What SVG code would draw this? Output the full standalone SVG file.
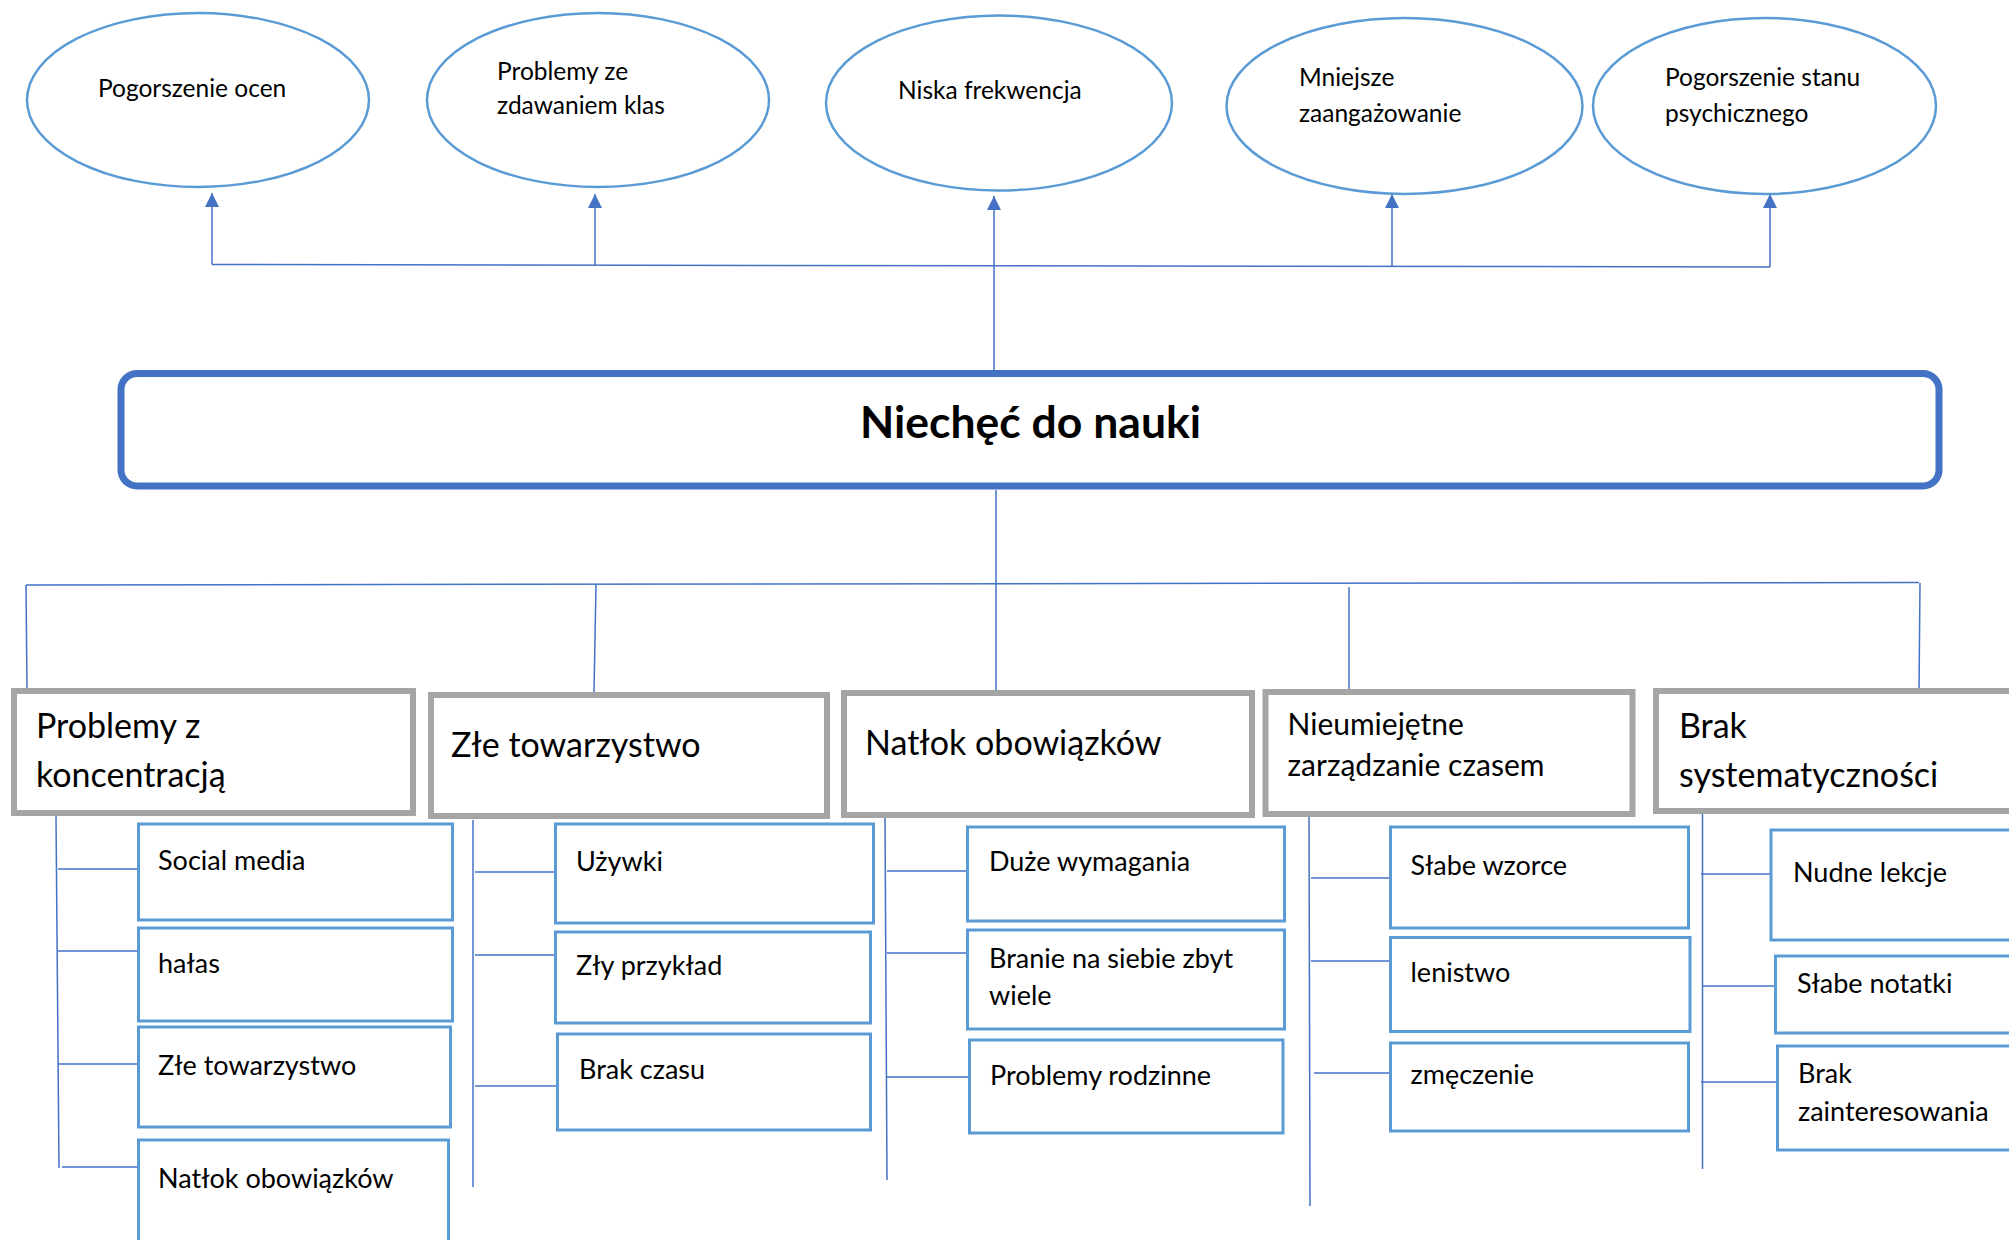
<svg xmlns="http://www.w3.org/2000/svg" width="2009" height="1240" viewBox="0 0 2009 1240">
<style>
.ell{fill:#fff;stroke:#5B9BD5;stroke-width:2.5}
.main{fill:#fff;stroke:#4472C4;stroke-width:7}
.cat{fill:#fff;stroke:#A5A5A5;stroke-width:6}
.leaf{fill:#fff;stroke:#5B9BD5;stroke-width:3}
.ln{fill:none;stroke:#4472C4;stroke-width:1.5}
.t{font-family:Lato,"Liberation Sans",sans-serif;fill:#000}
.te{font-size:24.5px}
.tc{font-size:34px}
.tc2{font-size:30px}
.tl{font-size:27px}
.tm{font-size:44.5px;font-weight:bold}
</style>
<defs>
<marker id="arr" markerUnits="userSpaceOnUse" markerWidth="16" markerHeight="16" refX="8" refY="1" orient="0" viewBox="0 0 16 16">
<path d="M8 1 L15 15 L1 15 Z" fill="#4472C4"/>
</marker>
</defs>

<g id="connectors">
<polyline class="ln" points="212,264.5 1770,267"/>
<line class="ln" x1="212" y1="264.5" x2="212" y2="193" marker-end="url(#arr)"/>
<line class="ln" x1="595" y1="265" x2="595" y2="194" marker-end="url(#arr)"/>
<line class="ln" x1="994" y1="372" x2="994" y2="196" marker-end="url(#arr)"/>
<line class="ln" x1="1392" y1="266.5" x2="1392" y2="194" marker-end="url(#arr)"/>
<line class="ln" x1="1770" y1="267" x2="1770" y2="194" marker-end="url(#arr)"/>

<line class="ln" x1="996" y1="490" x2="996" y2="691"/>
<polyline class="ln" points="26,585 1919,582.5"/>
<line class="ln" x1="26" y1="585" x2="27" y2="688"/>
<line class="ln" x1="596" y1="584.5" x2="594" y2="692"/>
<line class="ln" x1="1349" y1="587" x2="1349" y2="690"/>
<line class="ln" x1="1920" y1="583" x2="1919" y2="691"/>

<line class="ln" x1="56" y1="816" x2="59" y2="1168"/>
<line class="ln" x1="58" y1="869" x2="138" y2="869"/>
<line class="ln" x1="58" y1="951" x2="138" y2="951"/>
<line class="ln" x1="58" y1="1064" x2="138" y2="1064"/>
<line class="ln" x1="62" y1="1167" x2="138" y2="1167"/>

<line class="ln" x1="473" y1="820" x2="473" y2="1187"/>
<line class="ln" x1="475" y1="872" x2="555" y2="872"/>
<line class="ln" x1="475" y1="955" x2="555" y2="955"/>
<line class="ln" x1="475" y1="1086" x2="557" y2="1086"/>

<line class="ln" x1="885" y1="816" x2="887" y2="1180"/>
<line class="ln" x1="887" y1="871" x2="967" y2="871"/>
<line class="ln" x1="887" y1="953" x2="967" y2="953"/>
<line class="ln" x1="886" y1="1077" x2="969" y2="1077"/>

<line class="ln" x1="1309" y1="816" x2="1310" y2="1206"/>
<line class="ln" x1="1311" y1="878" x2="1390" y2="878"/>
<line class="ln" x1="1311" y1="961" x2="1390" y2="961"/>
<line class="ln" x1="1314" y1="1073" x2="1390" y2="1073"/>

<line class="ln" x1="1702.5" y1="812" x2="1702.5" y2="1169"/>
<line class="ln" x1="1701" y1="874" x2="1771" y2="874"/>
<line class="ln" x1="1703" y1="986" x2="1775" y2="986"/>
<line class="ln" x1="1701" y1="1082" x2="1777" y2="1082"/>
</g>

<g id="e1"><ellipse class="ell" cx="198" cy="100" rx="171" ry="87"/><text class="t te" x="98" y="97">Pogorszenie ocen</text></g>
<g id="e2"><ellipse class="ell" cx="598" cy="100" rx="171" ry="87"/><text class="t te" x="497" y="80">Problemy ze</text><text class="t te" x="497" y="114">zdawaniem klas</text></g>
<g id="e3"><ellipse class="ell" cx="999" cy="103" rx="173" ry="87.5"/><text class="t te" x="898" y="99">Niska frekwencja</text></g>
<g id="e4"><ellipse class="ell" cx="1404.5" cy="106" rx="178" ry="88"/><text class="t te" x="1299" y="86">Mniejsze</text><text class="t te" x="1299" y="122">zaangażowanie</text></g>
<g id="e5"><ellipse class="ell" cx="1764.5" cy="106" rx="171.5" ry="88"/><text class="t te" x="1665" y="86">Pogorszenie stanu</text><text class="t te" x="1665" y="122">psychicznego</text></g>

<g id="main"><rect class="main" x="121" y="373.5" width="1818" height="112.5" rx="16"/><text class="t tm" x="860" y="438">Niechęć do nauki</text></g>

<g id="c1"><rect class="cat" x="14" y="691" width="399" height="122"/><text class="t tc" x="36" y="738">Problemy z</text><text class="t tc" x="36" y="787">koncentracją</text></g>
<g id="c2"><rect class="cat" x="431" y="695" width="396" height="121"/><text class="t tc" x="451" y="757">Złe towarzystwo</text></g>
<g id="c3"><rect class="cat" x="844" y="693" width="408" height="122"/><text class="t tc" x="865" y="755">Natłok obowiązków</text></g>
<g id="c4"><rect class="cat" x="1265.5" y="692" width="367" height="122"/><text class="t tc2" x="1287.5" y="735">Nieumiejętne</text><text class="t tc2" x="1287.5" y="776">zarządzanie czasem</text></g>
<g id="c5"><rect class="cat" x="1656" y="691" width="370" height="120"/><text class="t tc" x="1679" y="738">Brak</text><text class="t tc" x="1679" y="787">systematyczności</text></g>

<g id="l1"><rect class="leaf" x="138.5" y="824" width="314" height="96"/><text class="t tl" x="158" y="870">Social media</text></g>
<g id="l2"><rect class="leaf" x="138.5" y="928" width="314" height="93"/><text class="t tl" x="158" y="973">hałas</text></g>
<g id="l3"><rect class="leaf" x="138.5" y="1027" width="312" height="100"/><text class="t tl" x="158" y="1075">Złe towarzystwo</text></g>
<g id="l4"><rect class="leaf" x="138.5" y="1140" width="310" height="120"/><text class="t tl" x="158" y="1188">Natłok obowiązków</text></g>

<g id="l5"><rect class="leaf" x="555.5" y="824" width="318" height="99"/><text class="t tl" x="576" y="871">Używki</text></g>
<g id="l6"><rect class="leaf" x="555.5" y="932" width="315" height="91"/><text class="t tl" x="576" y="975">Zły przykład</text></g>
<g id="l7"><rect class="leaf" x="557.5" y="1034" width="313" height="96"/><text class="t tl" x="579" y="1079">Brak czasu</text></g>

<g id="l8"><rect class="leaf" x="967.5" y="827" width="317" height="94"/><text class="t tl" x="989" y="871">Duże wymagania</text></g>
<g id="l9"><rect class="leaf" x="967.5" y="930" width="317" height="99"/><text class="t tl" x="989" y="968">Branie na siebie zbyt</text><text class="t tl" x="989" y="1005">wiele</text></g>
<g id="l10"><rect class="leaf" x="969.5" y="1040" width="313.5" height="93"/><text class="t tl" x="990" y="1085">Problemy rodzinne</text></g>

<g id="l11"><rect class="leaf" x="1390.5" y="827" width="298" height="101"/><text class="t tl" x="1410.5" y="875">Słabe wzorce</text></g>
<g id="l12"><rect class="leaf" x="1390.5" y="937.5" width="299.5" height="94"/><text class="t tl" x="1410.5" y="982">lenistwo</text></g>
<g id="l13"><rect class="leaf" x="1390.5" y="1043" width="298" height="88"/><text class="t tl" x="1410.5" y="1084">zmęczenie</text></g>

<g id="l14"><rect class="leaf" x="1771" y="830" width="260" height="110"/><text class="t tl" x="1793" y="882">Nudne lekcje</text></g>
<g id="l15"><rect class="leaf" x="1775.5" y="956" width="260" height="77"/><text class="t tl" x="1797" y="993">Słabe notatki</text></g>
<g id="l16"><rect class="leaf" x="1777.5" y="1046" width="260" height="104"/><text class="t tl" x="1798" y="1083">Brak</text><text class="t tl" x="1798" y="1121">zainteresowania</text></g>
</svg>
